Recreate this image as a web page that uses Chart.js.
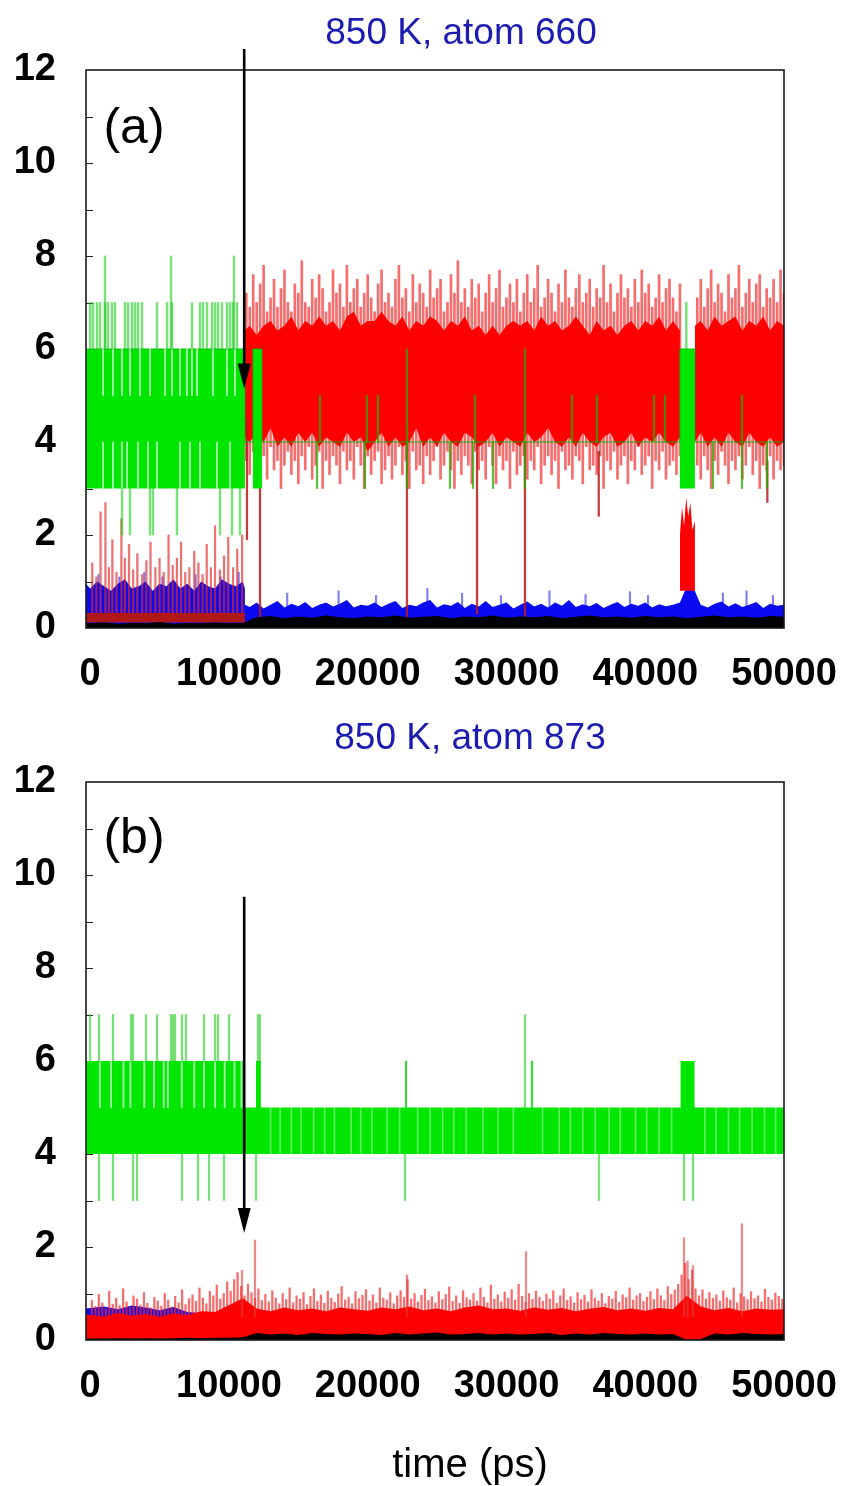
<!DOCTYPE html>
<html><head><meta charset="utf-8">
<script src="https://cdn.jsdelivr.net/npm/chart.js@4/dist/chart.umd.min.js"></script>
<style>
html,body{margin:0;padding:0;background:#fff;width:849px;height:1486px;overflow:hidden;font-family:"Liberation Sans",Arial,sans-serif}
.wrap{position:absolute;left:0;width:849px}
#wa{top:0;height:705px}
#wb{top:705px;height:781px}
.t{position:absolute;white-space:nowrap;transform:translate(-50%,-50%);line-height:1}
.title{color:#1c1cb0;font-size:37px}
.lab{font-size:50px;color:#000}
</style></head>
<body>
<div class="wrap" id="wa"><canvas id="ca" width="849" height="705"></canvas></div>
<div class="wrap" id="wb"><canvas id="cb" width="849" height="781"></canvas></div>
<div class="t title" style="left:461px;top:31px">850 K, atom 660</div>
<div class="t title" style="left:470px;top:736px">850 K, atom 873</div>
<div class="t lab" style="left:134px;top:126px">(a)</div>
<div class="t lab" style="left:134px;top:836px">(b)</div>
<div class="t" style="left:470px;top:1463px;font-size:40px">time (ps)</div>
<script>
// ---------- axes ----------
const xTicks = [0, 10000, 20000, 30000, 40000, 50000];
const yTicks = [0, 2, 4, 6, 8, 10, 12];
const seq = (a, b, s) => { const r = []; for (let v = a; v <= b; v += s) r.push(v); return r; };

// ---------- panel (a): atom 660 ----------
const greenA_t  = [-300, 11150, 11730, 12380, 42500, 43580, 50000];
const greenA_lo = [3, 4, 3, 4, 3, 4, 4];
const greenA_hi = [6, 4, 6, 4, 6, 4, 4];
const greenA_to7 = [0, 204, 493, 709, 1069, 1285, 1574, 1790, 2510, 2727, 3015, 3231, 3447, 3735, 4816, 5537, 5897, 7338, 7915, 8131, 8419, 8780, 8996, 9212, 9500, 9860, 10077, 10293, 10581, 42960];
const greenA_to8 = [1069, 5825, 10365];
const greenA_to2 = [2300, 2870, 4310, 4530, 6257, 9356, 10221, 10797];
const greenA_gap56 = [925, 1646, 2294, 2870, 3591, 4312, 5393, 5897, 6474, 6978, 7338, 7698, 8851, 9860, 10437];
const greenA_gap34 = [925, 1646, 2294, 2655, 3447, 4168, 4816, 6474, 7194, 7915, 9140, 10077];
const greenA_in6 = [22830, 31330];
const greenA_in5 = [16560, 19950, 20740, 27730, 34720, 36520, 40630, 41420, 46970];
const greenA_in3 = [16350, 19800, 22830, 25930, 27590, 29030, 31330, 44880, 46970, 48770];

const redBaseA_t = [-300, 11150], redBaseA_lo = [0.12, 0.12], redBaseA_hi = [0.32, 0.32];
const redSpkA_t  = [150, 450, 750, 1100, 1350, 1600, 1900, 2250, 2500, 2800, 3100, 3400, 3750, 4050, 4350, 4700, 5000, 5300, 5650, 5950, 6250, 6550, 6850, 7150, 7500, 7800, 8100, 8400, 8700, 9000, 9350, 9650, 9950, 10300, 10600, 10950];
const redSpkA_hi = [1.4, 1.1, 2.5, 2.7, 1.3, 1.9, 1.2, 2.35, 1.5, 1.8, 1.25, 1.6, 1.15, 1.45, 1.85, 1.3, 1.5, 1.2, 2.0, 1.35, 1.5, 1.85, 1.2, 1.3, 1.65, 1.4, 1.15, 1.8, 1.3, 2.2, 1.25, 1.55, 1.95, 1.3, 1.7, 2.0];
const redCoreA1_t  = [11150, ...seq(11500, 42500, 500)];
const redCoreA1_hi = [6.4, 6.5, 6.3, 6.5, 6.6, 6.4, 6.5, 6.7, 6.4, 6.6,
                      6.5, 6.7, 6.5, 6.6, 6.4, 6.7, 6.8, 6.5, 6.6, 6.6,
                      6.8, 6.6, 6.5, 6.7, 6.4, 6.6, 6.5, 6.7, 6.6, 6.4,
                      6.6, 6.5, 6.7, 6.4, 6.5, 6.3, 6.5, 6.3, 6.5, 6.6,
                      6.5, 6.6, 6.4, 6.7, 6.5, 6.6, 6.4, 6.5, 6.7, 6.5,
                      6.3, 6.6, 6.4, 6.5, 6.3, 6.5, 6.6, 6.4, 6.6, 6.5,
                      6.7, 6.4, 6.6, 6.4];
const redCoreA1_lo = [4.1, 4.0, 4.2, 4.0, 4.3, 3.9, 4.1, 3.9, 4.2, 4.0,
                      4.2, 3.9, 4.1, 4.0, 3.9, 4.2, 4.0, 4.1, 3.8, 4.0,
                      4.2, 3.9, 4.1, 3.9, 4.0, 4.3, 3.9, 4.1, 3.9, 4.2,
                      4.0, 3.9, 4.2, 4.1, 3.9, 4.0, 4.2, 3.9, 4.1, 4.0,
                      3.9, 4.2, 4.0, 4.1, 4.3, 4.0, 3.9, 4.1, 3.9, 4.2,
                      4.0, 3.9, 4.1, 4.2, 3.9, 4.0, 4.2, 3.9, 4.1, 4.0,
                      4.2, 4.0, 3.9, 4.1];
const redCoreA2_t  = [43580, ...seq(44000, 50000, 500)];
const redCoreA2_hi = [6.5, 6.6, 6.4, 6.7, 6.5, 6.6, 6.7, 6.4, 6.6, 6.5, 6.7, 6.4, 6.6, 6.5];
const redCoreA2_lo = [4.0, 4.2, 3.9, 4.1, 3.9, 4.2, 4.0, 3.9, 4.2, 4.0, 3.9, 4.1, 3.9, 4.0];
const redFrA1_t  = seq(11250, 42500, 250);
const redFrA1_hi = [7.2, 6.9, 7.6, 7.0, 7.4, 7.8, 6.8, 7.1, 7.5, 6.9,
                    7.3, 7.7, 7.0, 6.8, 7.4, 7.2, 7.9, 7.0, 6.9, 7.5,
                    7.1, 7.6, 7.3, 6.8, 7.0, 7.7, 7.2, 7.4, 6.9, 7.8,
                    7.0, 7.3, 7.5, 6.9, 7.2, 7.6, 7.1, 6.8, 7.4, 7.7,
                    7.0, 7.2, 6.9, 7.5, 7.8, 7.1, 7.3, 6.8, 7.6, 7.0,
                    7.4, 7.2, 6.9, 7.7, 7.1, 7.3, 7.5, 6.8, 7.0, 7.6,
                    7.2, 7.9, 7.0, 7.3, 6.9, 7.5, 7.1, 7.4, 6.8, 7.2,
                    7.6, 7.0, 7.3, 7.7, 6.9, 7.1, 7.4, 7.0, 7.5, 6.8,
                    7.2, 7.6, 7.0, 7.3, 7.8, 6.9, 7.1, 7.5, 7.2, 6.8,
                    7.4, 7.0, 7.7, 7.1, 6.9, 7.3, 7.6, 7.0, 7.2, 7.5,
                    6.9, 7.3, 7.1, 7.8, 7.0, 7.4, 6.8, 7.2, 7.6, 7.1,
                    7.3, 6.9, 7.5, 7.0, 7.7, 7.2, 7.4, 6.9, 7.1, 7.6,
                    7.0, 7.3, 7.5, 7.1, 6.8, 7.4];
const redFrA1_lo = [3.6, 3.3, 3.8, 3.1, 3.5, 3.7, 3.2, 3.9, 3.4, 3.6,
                    3.0, 3.5, 3.8, 3.3, 3.6, 3.1, 3.7, 3.4, 3.9, 3.2,
                    3.5, 3.8, 3.0, 3.6, 3.3, 3.7, 3.5, 3.1, 3.8, 3.4,
                    3.6, 3.2, 3.9, 3.5, 3.0, 3.7, 3.3, 3.6, 3.8, 3.1,
                    3.4, 3.7, 3.2, 3.5, 3.9, 3.3, 3.6, 3.0, 3.8, 3.4,
                    3.5, 3.1, 3.7, 3.3, 3.6, 3.9, 3.2, 3.5, 3.8, 3.4,
                    3.0, 3.6, 3.3, 3.7, 3.5, 3.1, 3.8, 3.4, 3.6, 3.2,
                    3.9, 3.5, 3.1, 3.7, 3.4, 3.6, 3.0, 3.8, 3.3, 3.5,
                    3.7, 3.2, 3.6, 3.4, 3.9, 3.1, 3.5, 3.7, 3.3, 3.6,
                    3.0, 3.8, 3.4, 3.5, 3.2, 3.7, 3.6, 3.1, 3.9, 3.4,
                    3.5, 3.3, 3.7, 3.0, 3.6, 3.4, 3.8, 3.2, 3.5, 3.7,
                    3.1, 3.6, 3.4, 3.9, 3.3, 3.5, 3.7, 3.0, 3.6, 3.4,
                    3.8, 3.2, 3.5, 3.6, 3.3, 3.7];
const redFrA2_t  = seq(43750, 50000, 250);
const redFrA2_hi = [7.1, 7.5, 6.9, 7.3, 7.7, 7.0, 7.4, 7.2, 6.8, 7.6, 7.1, 7.3, 7.8, 6.9, 7.2, 7.5, 7.0, 7.4, 7.6, 6.9, 7.3, 7.1, 7.5, 7.0, 7.7, 7.2];
const redFrA2_lo = [3.5, 3.2, 3.7, 3.4, 3.0, 3.6, 3.3, 3.8, 3.5, 3.1, 3.6, 3.4, 3.7, 3.2, 3.5, 3.9, 3.3, 3.6, 3.0, 3.5, 3.4, 3.7, 3.2, 3.6, 3.4, 3.5];
const redGapA_t  = [42500, 42650, 42800, 42950, 43100, 43250, 43400, 43580];
const redGapA_hi = [2.0, 2.6, 2.2, 2.8, 2.4, 2.7, 2.1, 2.3];
const redGapA_lo = [0.8, 0.8, 0.8, 0.8, 0.8, 0.8, 0.8, 0.8];
const redDropA_t  = [11300, 12240, 22830, 27880, 31330, 36650, 48800];
const redDropA_lo = [1.9, 0.1, 0.1, 0.3, 0.1, 2.4, 2.7];
const redDropA_hi = [4.5, 4.0, 4.0, 4.0, 4.0, 3.8, 3.6];

const blueA1_t  = [-300, ...seq(0, 11000, 500), 11150];
const blueA1_hi = [0.95, 0.85, 1.0, 0.9, 0.8, 0.95, 1.05, 0.85, 0.9, 1.0, 0.8, 0.95, 0.9, 1.05, 0.85, 0.95, 0.8, 1.0, 0.9, 0.85, 1.05, 0.95, 0.9, 1.0, 0.85];
const blueA2_t  = [11150, ...seq(11500, 50000, 500)];
const blueA2_hi = [0.50, 0.45, 0.55, 0.42, 0.50, 0.58, 0.44, 0.52, 0.47, 0.56,
                   0.43, 0.50, 0.55, 0.46, 0.52, 0.60, 0.44, 0.50, 0.48, 0.55,
                   0.45, 0.52, 0.58, 0.43, 0.50, 0.47, 0.55, 0.60, 0.44, 0.51,
                   0.48, 0.56, 0.43, 0.52, 0.46, 0.58, 0.45, 0.50, 0.55, 0.42,
                   0.50, 0.57, 0.46, 0.52, 0.44, 0.55, 0.48, 0.60, 0.45, 0.51,
                   0.47, 0.54, 0.43, 0.50, 0.56, 0.45, 0.52, 0.48, 0.55, 0.44,
                   0.51, 0.47, 0.50, 0.55, 0.90, 0.85, 0.50, 0.44, 0.52, 0.57,
                   0.46, 0.53, 0.45, 0.50, 0.56, 0.43, 0.52, 0.48, 0.50];
const blueSpkA_t  = [600, 2100, 3900, 5200, 7600, 9400, 10700, 14200, 17900, 20600, 24300, 26800, 29600, 33100, 35700, 38900, 40200, 45600, 47300, 49200];
const blueSpkA_hi = [1.15, 1.1, 1.2, 1.1, 1.15, 1.1, 1.2, 0.75, 0.8, 0.7, 0.85, 0.75, 0.7, 0.8, 0.72, 0.78, 0.7, 0.75, 0.8, 0.7];

const blackA_t  = [-300, ...seq(1000, 50000, 1000)];
const blackA_hi = [0.10, 0.12, 0.09, 0.11, 0.10, 0.13, 0.09, 0.11, 0.10, 0.12,
                   0.10, 0.11, 0.23, 0.26, 0.21, 0.25, 0.22, 0.27, 0.23, 0.21,
                   0.25, 0.23, 0.27, 0.22, 0.24, 0.26, 0.21, 0.25, 0.23, 0.27,
                   0.22, 0.25, 0.23, 0.26, 0.21, 0.24, 0.27, 0.23, 0.25, 0.22,
                   0.26, 0.23, 0.25, 0.21, 0.24, 0.27, 0.23, 0.25, 0.22, 0.26,
                   0.24];

// ---------- panel (b): atom 873 ----------
const greenB_t  = [-300, 11150, 11950, 12300, 42550, 43550, 50000];
const greenB_lo = [4, 4, 4, 4, 4, 4, 4];
const greenB_hi = [6, 5, 6, 5, 6, 5, 5];
const greenB_to7 = [0, 637, 1646, 2943, 3087, 4024, 4816, 5825, 5969, 6113, 6618, 6906, 8203, 8996, 9212, 10005, 12094, 12238];
const greenB_5to7 = [31334];
const greenB_to6 = [22760, 31838];
const greenB_to3 = [637, 1646, 3087, 3375, 6618, 7771, 8564, 9644, 11950, 22687, 36667, 42792, 43441];
const greenB_gap56 = [700, 1500, 2400, 2900, 3900, 4600, 5300, 5600, 6600, 7500, 8200, 9000, 9700, 10400, 10900];
const greenB_gap45 = [13000, 13700, 14500, 15200, 16100, 16900, 17600, 18800, 19500, 20300, 21400, 22300, 23600, 24500, 25400, 26200, 27100, 28300, 29400, 30500, 32600, 33800, 34600, 35500, 36400, 37400, 38200, 39300, 40100, 41000, 41900, 44300, 45100, 46000, 46800, 47700, 48600, 49400];

const redCoreB_t  = [-300, ...seq(1000, 50000, 1000)];
const redCoreB_hi = [0.55, 0.50, 0.58, 0.52, 0.56, 0.50, 0.57, 0.53, 0.62, 0.60,
                     0.75, 0.90, 0.68, 0.62, 0.70, 0.64, 0.68, 0.62, 0.70, 0.66,
                     0.63, 0.70, 0.66, 0.72, 0.64, 0.68, 0.62, 0.70, 0.74, 0.66,
                     0.68, 0.63, 0.70, 0.65, 0.69, 0.62, 0.67, 0.71, 0.64, 0.68,
                     0.63, 0.69, 0.66, 0.95, 0.72, 0.64, 0.69, 0.62, 0.68, 0.65,
                     0.66];
const redFrB_t  = seq(125, 49875, 250);
const redFrB_hi = [0.85, 0.72, 0.98, 0.80, 0.68, 1.05, 0.77, 0.90, 0.74, 1.10,
                   0.82, 0.70, 0.95, 0.88, 0.75, 1.02, 0.79, 0.69, 0.92, 0.84,
                   0.73, 1.00, 0.86, 0.71, 0.94, 0.80, 1.08, 0.76, 0.89, 0.97,
                   0.83, 1.12, 0.90, 0.78, 1.05, 0.95, 1.18, 0.88, 1.00, 1.25,
                   1.05, 1.30, 1.45, 1.15, 0.95, 1.20, 1.02, 0.90, 1.10, 0.85,
                   0.98, 0.82, 1.06, 0.90, 0.78, 1.00, 0.87, 1.12, 0.80, 0.95,
                   0.88, 1.02, 0.76, 0.94, 1.10, 0.83, 0.97, 0.79, 1.05, 0.90,
                   0.81, 0.99, 1.15, 0.86, 0.92, 0.78, 1.04, 0.89, 0.96, 1.08,
                   0.84, 0.97, 0.80, 1.12, 0.90, 0.86, 1.02, 0.78, 0.95, 1.06,
                   0.92, 1.30, 0.88, 1.00, 0.82, 0.96, 1.09, 0.85, 0.93, 0.80,
                   1.04, 0.87, 0.98, 1.14, 0.83, 0.95, 0.79, 1.06, 0.91, 0.86,
                   1.00, 0.84, 1.12, 0.92, 0.80, 1.18, 0.88, 0.97, 0.82, 1.03,
                   0.90, 1.08, 0.86, 1.20, 0.94, 0.81, 1.00, 0.87, 1.05, 0.92,
                   0.83, 0.99, 0.88, 1.06, 0.79, 0.95, 1.10, 0.85, 0.93, 0.80,
                   1.02, 0.87, 0.96, 0.82, 1.08, 0.90, 0.84, 1.00, 0.78, 0.94,
                   0.88, 1.05, 0.81, 0.97, 0.91, 1.12, 0.86, 0.95, 1.00, 0.83,
                   0.92, 1.04, 0.87, 1.10, 0.95, 0.85, 1.15, 0.98, 1.08, 1.20,
                   1.40, 1.65, 1.30, 1.50, 1.10, 0.95, 1.08, 0.88, 1.02, 0.90,
                   0.97, 0.84, 1.06, 0.91, 0.86, 1.12, 0.80, 1.00, 0.93, 0.87,
                   1.04, 0.89, 0.95, 0.82, 1.09, 0.92, 0.86, 1.01, 0.94, 0.88];
const redSpkB_t  = [10941, 11878, 22831, 31406, 42792, 43050, 43441, 46971];
const redSpkB_hi = [1.5, 2.15, 1.4, 1.9, 2.2, 1.7, 1.6, 2.5];
const blueB_t  = [-300, 1000, 2000, 3000, 4000, 5000, 6000, 7000, 8000, 9000, 10000, 11150, 50000];
const blueB_hi = [0.68, 0.72, 0.66, 0.74, 0.70, 0.64, 0.71, 0.60, 0.58, 0.55, 0.50, 0.45, 0.45];
const blackB_t  = [-300, ...seq(1000, 50000, 1000)];
const blackB_hi = [0.03, 0.03, 0.04, 0.03, 0.04, 0.03, 0.04, 0.05, 0.04, 0.05,
                   0.05, 0.06, 0.15, 0.12, 0.14, 0.11, 0.15, 0.13, 0.12, 0.14,
                   0.13, 0.11, 0.15, 0.12, 0.14, 0.16, 0.12, 0.13, 0.15, 0.12,
                   0.14, 0.12, 0.13, 0.15, 0.11, 0.14, 0.12, 0.15, 0.13, 0.12,
                   0.14, 0.12, 0.13, 0.00, 0.02, 0.14, 0.12, 0.15, 0.13, 0.12,
                   0.13];

const arrowA = {t: 11100, from: 12.45, to: 5.15};
const arrowB = {t: 11100, from: 9.53, to: 2.3};

// ---------- builders ----------
const GREEN = '#00e600', RED = '#ff0000', BLUE = '#0a0af0', BLACK = '#000000';
const val = (v, i) => Array.isArray(v) ? v[i] : v;
const pts = (ts, vs) => ts.map((t, i) => ({x: t, y: val(vs, i)}));
const bars = (ts, lo, hi) => ts.map((t, i) => ({x: t, y: [val(lo, i), val(hi, i)]}));
function band(ts, lo, hi, color, order, extra) {
  const e = extra || {};
  return [
    {type: 'line', data: pts(ts, lo), borderWidth: 0, borderColor: 'transparent', pointRadius: 0, fill: false, order, stepped: e.stepped || false, tension: 0},
    {type: 'line', data: pts(ts, hi), borderWidth: e.bw || 0, borderColor: e.bc || 'transparent', pointRadius: 0, backgroundColor: color, fill: '-1', order, stepped: e.stepped || false, tension: 0}
  ];
}
function spikes(ts, lo, hi, color, order, w) {
  return {type: 'bar', data: bars(ts, lo, hi), backgroundColor: color, borderWidth: 0, barThickness: w || 1.6, grouped: false, order};
}

const tickFont = {family: '"Liberation Sans", Arial, sans-serif', size: 38, weight: 'bold'};

const framePlugin = {
  id: 'frame',
  beforeDatasetsDraw(chart) {
    const {ctx, chartArea: a, scales: {y}} = chart;
    ctx.save();
    ctx.strokeStyle = '#222'; ctx.lineWidth = 1.2;
    ctx.beginPath();
    for (let v = 1; v < 12; v++) {
      const py = Math.round(y.getPixelForValue(v)) + 0.5;
      ctx.moveTo(a.left, py); ctx.lineTo(a.left + 7, py);
    }
    ctx.stroke();
    ctx.restore();
  },
  afterDatasetsDraw(chart, args, opts) {
    const {ctx, chartArea: a, scales: {x, y}} = chart;
    ctx.save();
    ctx.strokeStyle = '#1a1a1a'; ctx.lineWidth = 1.6;
    ctx.strokeRect(a.left, a.top, a.right - a.left, a.bottom - a.top);
    const ar = opts.arrow;
    if (ar) {
      const px = x.getPixelForValue(ar.t);
      const y1 = y.getPixelForValue(ar.from), y2 = y.getPixelForValue(ar.to);
      ctx.strokeStyle = '#000'; ctx.lineWidth = 2.6;
      ctx.beginPath(); ctx.moveTo(px, y1); ctx.lineTo(px, y2 - 20); ctx.stroke();
      ctx.fillStyle = '#000';
      ctx.beginPath(); ctx.moveTo(px - 6.5, y2 - 25); ctx.lineTo(px + 6.5, y2 - 25); ctx.lineTo(px, y2); ctx.closePath(); ctx.fill();
    }
    ctx.restore();
  }
};

function options(padTop, axisH, arrow) {
  return {
    responsive: false, animation: false, devicePixelRatio: 1, events: [],
    layout: {padding: {top: padTop, left: 0, right: 65, bottom: 0}},
    plugins: {legend: {display: false}, tooltip: {enabled: false}, frame: {arrow}},
    scales: {
      x: {type: 'linear', min: -300, max: 50000, offset: false,
          grid: {display: false, drawTicks: false}, border: {display: false},
          afterBuildTicks: s => { s.ticks = xTicks.map(v => ({value: v})); },
          afterFit: s => { s.height = axisH; s.paddingLeft = 0; s.paddingRight = 0; },
          ticks: {autoSkip: false, maxRotation: 0, minRotation: 0, padding: 24, color: '#000', font: tickFont, callback: v => String(v)}},
      y: {type: 'linear', min: 0, max: 12,
          grid: {display: false, drawTicks: false}, border: {display: false},
          afterBuildTicks: s => { s.ticks = yTicks.map(v => ({value: v})); },
          afterFit: s => { s.width = 86; s.paddingTop = 0; s.paddingBottom = 0; },
          ticks: {padding: 30, color: '#000', font: tickFont, callback: v => String(v)}}
    }
  };
}

const LGREEN = 'rgba(30,205,30,0.6)';
const OLIVE = 'rgba(40,170,0,0.75)';
const FRRED = 'rgba(240,40,40,0.68)';
const WGAP = 'rgba(255,255,255,0.6)';
const WGAP2 = 'rgba(255,255,255,0.35)';

const dsA = [
  ...band(blueA1_t, 0, blueA1_hi, BLUE, 40),
  ...band(blueA2_t, 0, blueA2_hi, BLUE, 40),
  spikes(blueSpkA_t, 0.3, blueSpkA_hi, 'rgba(40,40,240,0.6)', 41, 1.5),
  spikes(redFrA1_t, redFrA1_lo, redFrA1_hi, FRRED, 32, 2.0),
  spikes(redFrA2_t, redFrA2_lo, redFrA2_hi, FRRED, 32, 2.0),
  ...band(redCoreA1_t, redCoreA1_lo, redCoreA1_hi, RED, 31),
  ...band(redCoreA2_t, redCoreA2_lo, redCoreA2_hi, RED, 31),
  ...band(redGapA_t, redGapA_lo, redGapA_hi, RED, 31),
  ...band(redBaseA_t, redBaseA_lo, redBaseA_hi, '#b01818', 30),
  spikes(redSpkA_t, 0.3, redSpkA_hi, 'rgba(225,40,40,0.65)', 30, 1.6),
  spikes(redDropA_t, redDropA_lo, redDropA_hi, 'rgba(185,25,25,0.85)', 30, 1.6),
  ...band(greenA_t, greenA_lo, greenA_hi, GREEN, 20, {stepped: true, bw: 1.3, bc: 'rgba(0,180,0,0.6)'}),
  spikes(greenA_gap56, 5, 6, WGAP, 19, 1.4),
  spikes(greenA_gap34, 3, 4, WGAP, 19, 1.4),
  spikes(greenA_to7, 6, 7, LGREEN, 18, 1.8),
  spikes(greenA_to8, 6, 8, LGREEN, 18, 1.8),
  spikes(greenA_to2, 2, 3, LGREEN, 18, 1.8),
  spikes(greenA_in6, 4, 6, OLIVE, 18, 1.6),
  spikes(greenA_in5, 4, 5, OLIVE, 18, 1.6),
  spikes(greenA_in3, 3, 4, OLIVE, 18, 1.6),
  ...band(blackA_t, 0, blackA_hi, BLACK, 10)
];

const dsB = [
  ...band(blueB_t, 0, blueB_hi, BLUE, 40),
  spikes(redFrB_t, 0.3, redFrB_hi, FRRED, 32, 1.6),
  ...band(redCoreB_t, 0, redCoreB_hi, RED, 31),
  spikes(redSpkB_t, 0.5, redSpkB_hi, 'rgba(225,60,60,0.6)', 30, 1.6),
  ...band(greenB_t, greenB_lo, greenB_hi, GREEN, 20, {stepped: true}),
  spikes(greenB_gap56, 5, 6, WGAP, 19, 1.3),
  spikes(greenB_gap45, 4, 5, WGAP2, 19, 1.1),
  spikes(greenB_to7, 6, 7, LGREEN, 18, 1.6),
  spikes(greenB_5to7, 5, 7, LGREEN, 18, 1.6),
  spikes(greenB_to6, 5, 6, 'rgba(20,200,20,0.8)', 18, 1.6),
  spikes(greenB_to3, 3, 4, LGREEN, 18, 1.6),
  ...band(blackB_t, 0, blackB_hi, BLACK, 10)
];

new Chart(document.getElementById('ca'), {type: 'bar', data: {datasets: dsA}, options: options(70, 77, arrowA), plugins: [framePlugin]});
new Chart(document.getElementById('cb'), {type: 'bar', data: {datasets: dsB}, options: options(77, 146, arrowB), plugins: [framePlugin]});
</script>
</body></html>
